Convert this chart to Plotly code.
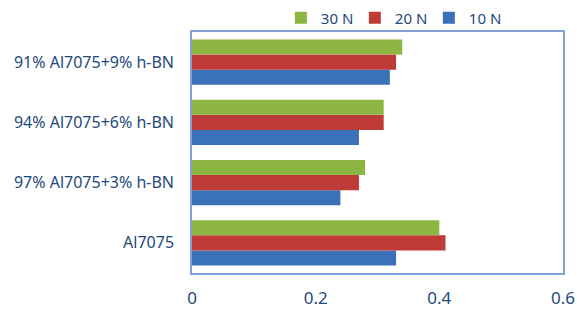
import plotly.graph_objects as go

categories = ["Al7075", "97% Al7075+3% h-BN", "94% Al7075+6% h-BN", "91% Al7075+9% h-BN"]
load_10n = [0.33, 0.24, 0.27, 0.32]
load_20n = [0.41, 0.27, 0.31, 0.33]
load_30n = [0.40, 0.28, 0.31, 0.34]
series_names = ["10 N", "20 N", "30 N"]
x_ticks = [0, 0.2, 0.4, 0.6]
x_tick_labels = ["0", "0.2", "0.4", "0.6"]

colors = ["#3A71B9", "#BF3B38", "#8DB541"]
text_color = "#1F497D"

fig = go.Figure()
for name, vals, col in zip(series_names, [load_10n, load_20n, load_30n], colors):
    fig.add_trace(go.Bar(
        y=categories, x=vals, name=name, orientation="h",
        marker=dict(color=col, line=dict(width=0)),
    ))

fig.update_layout(
    barmode="group",
    bargap=0.25,
    bargroupgap=0,
    width=577, height=311,
    margin=dict(l=192, r=14, t=32, b=38, autoexpand=False),
    paper_bgcolor="white",
    plot_bgcolor="white",
    font=dict(family="Noto Sans", color=text_color),
    legend=dict(
        orientation="h", traceorder="reversed",
        x=0.2395, xanchor="left", y=0.99, yanchor="bottom",
        font=dict(size=15, color=text_color),
        itemwidth=30, itemsizing="constant",
        entrywidth=29, entrywidthmode="pixels",
        bgcolor="rgba(0,0,0,0)",
    ),
    showlegend=True,
)
fig.update_xaxes(
    range=[0, 0.6], tickvals=x_ticks, ticktext=x_tick_labels,
    showgrid=False, zeroline=False, automargin=False,
    showline=True, linecolor="#7FA3D6", linewidth=1.5, mirror=True,
    tickfont=dict(size=17, color=text_color),
    ticks="", ticklabelstandoff=9,
)
fig.update_yaxes(
    showgrid=False, zeroline=False, automargin=False,
    showline=True, linecolor="#7FA3D6", linewidth=1.5, mirror=True,
    tickfont=dict(size=16, color=text_color),
    ticks="", ticklabelstandoff=13,
)

fig.write_html(
    "out.html",
    config={"displayModeBar": False},
    post_script="document.body.style.margin='0';document.body.style.overflow='hidden';",
)
